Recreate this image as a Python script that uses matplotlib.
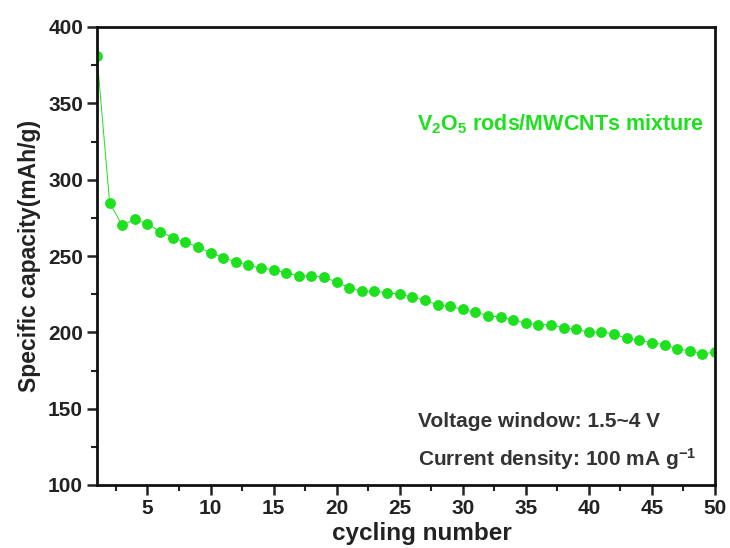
import matplotlib
matplotlib.use("Agg")
import matplotlib.pyplot as plt
from matplotlib.ticker import MultipleLocator

plt.rcParams['font.family'] = ['Liberation Sans', 'DejaVu Sans']
plt.rcParams['font.weight'] = 'bold'
plt.rcParams['mathtext.fontset'] = 'custom'
plt.rcParams['mathtext.rm'] = 'Liberation Sans:bold'
plt.rcParams['mathtext.bf'] = 'Liberation Sans:bold'
plt.rcParams['mathtext.it'] = 'Liberation Sans:bold'

cycles = list(range(1, 51))
capacity = [381, 285, 270, 274, 271, 266, 262, 259, 256, 252,
            249, 246, 244, 242, 241, 239, 237, 237, 236, 233,
            229, 227, 227, 226, 225, 223, 221, 218, 217, 215,
            213, 211, 210, 208, 206, 205, 205, 203, 202, 200,
            200, 199, 196, 195, 193, 192, 189, 188, 186, 187]

series_label = r'V$_\mathbf{2}$O$_\mathbf{5}$ rods/MWCNTs mixture'
note1 = 'Voltage window: 1.5~4 V'
note2 = r'Current density: 100 mA g$^\mathbf{-1}$'

green = '#1EE01E'
dark = '#222222'

fig = plt.figure(figsize=(7.3, 5.48), dpi=100)
ax = fig.add_axes([97/730, 63/548, (715-97)/730, (485-27)/548])

ax.plot(cycles, capacity, '-o', color=green, lw=0.7, ms=6.8,
        markeredgecolor=green, markerfacecolor=green, clip_on=True)

ax.set_xlim(1, 50)
ax.set_ylim(100, 400)
ax.xaxis.set_minor_locator(MultipleLocator(2.5))
ax.yaxis.set_major_locator(MultipleLocator(50))
ax.yaxis.set_minor_locator(MultipleLocator(25))
ax.set_xticks([5, 10, 15, 20, 25, 30, 35, 40, 45, 50])

ax.tick_params(which='major', direction='out', length=7, width=1.8,
               labelsize=15, colors=dark, pad=3)
ax.tick_params(which='minor', direction='out', length=4, width=1.5, colors=dark)
ax.tick_params(top=False, right=False, which='both')
for lab in ax.get_xticklabels() + ax.get_yticklabels():
    lab.set_fontweight('bold')

for s in ax.spines.values():
    s.set_linewidth(2.0)
    s.set_color('#111111')

ax.set_xlabel('cycling number', fontsize=17.5, fontweight='bold', color=dark, va='top')
ax.xaxis.set_label_coords(0.526, -0.08)
ax.set_ylabel('Specific capacity(mAh/g)', fontsize=16.5, fontweight='bold', color=dark, labelpad=5)

ax.text(0.518, 0.787, series_label, transform=ax.transAxes, fontsize=15.5,
        fontweight='bold', color=green, ha='left', va='center')
ax.text(0.519, 0.138, note1, transform=ax.transAxes, fontsize=15,
        fontweight='bold', color='#333333', ha='left', va='center')
ax.text(0.519, 0.057, note2, transform=ax.transAxes, fontsize=15,
        fontweight='bold', color='#333333', ha='left', va='center')

fig.savefig('out.png', dpi=100)
